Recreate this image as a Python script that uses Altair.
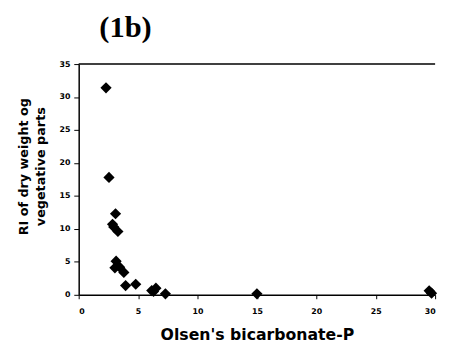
import altair as alt
import pandas as pd

olsen_p = [2.3, 2.55, 3.1, 2.85, 2.95, 3.3, 3.15, 3.05, 3.45, 3.8, 3.95, 4.8, 6.15, 6.3, 6.5, 7.3, 15.0, 29.5, 29.7]
ri_dry = [31.4, 17.8, 12.3, 10.7, 10.3, 9.6, 5.1, 4.1, 4.2, 3.4, 1.4, 1.6, 0.65, 0.5, 1.0, 0.15, 0.15, 0.6, 0.25]
x_ticks = [0, 5, 10, 15, 20, 25, 30]
y_ticks = [0, 5, 10, 15, 20, 25, 30, 35]

df = pd.DataFrame({"x": olsen_p, "y": ri_dry})

W, H = 363, 235
axis_font = "DejaVu Sans"

y_axis = alt.Axis(values=y_ticks,
                  title=["RI of dry weight og", "vegetative parts"],
                  titleFont=axis_font, titleFontSize=13, titleFontWeight="bold",
                  titleColor="black", titlePadding=12, titleLineHeight=17, titleY=104,
                  labelFont=axis_font, labelFontSize=8, labelFontWeight="bold",
                  labelColor="black", labelPadding=4, labelOverlap=False,
                  domainColor="black", domainWidth=1.5, tickColor="black",
                  tickSize=5, grid=False)
y_scale = alt.Scale(domain=[0, 35], nice=False)

points = alt.Chart(df).mark_point(shape="diamond", filled=True, color="black", size=130, opacity=1).encode(
    x=alt.X("x:Q", scale=alt.Scale(domain=[0, 30], nice=False),
            axis=alt.Axis(values=x_ticks, title="Olsen's bicarbonate-P",
                          titleFont=axis_font, titleFontSize=16, titleFontWeight="bold",
                          titleColor="black", titlePadding=12,
                          labelFont=axis_font, labelFontSize=8, labelFontWeight="bold",
                          labelColor="black", labelPadding=9, labelOverlap=False,
                          domainColor="black", domainWidth=1.5, tickColor="black",
                          tickSize=4, grid=False)),
    y=alt.Y("y:Q", scale=y_scale, axis=y_axis),
)

top_line = alt.Chart(pd.DataFrame({"y": [35]})).mark_rule(color="black", strokeWidth=1.5).encode(
    y=alt.Y("y:Q", scale=y_scale, axis=y_axis)
)

chart = alt.layer(points, top_line).properties(
    width=W, height=H,
    title=alt.TitleParams(text="(1b)", anchor="start", frame="group", font="Liberation Serif",
                          fontSize=31, fontWeight="bold", color="black", dx=21, offset=17),
    autosize=alt.AutoSizeParams(type="none"),
    padding={"left": 72, "top": 54, "right": 6, "bottom": 48},
).configure(background="white", view=alt.ViewConfig(stroke=None))

chart.save("out.html", embed_options={"renderer": "svg", "actions": False})
